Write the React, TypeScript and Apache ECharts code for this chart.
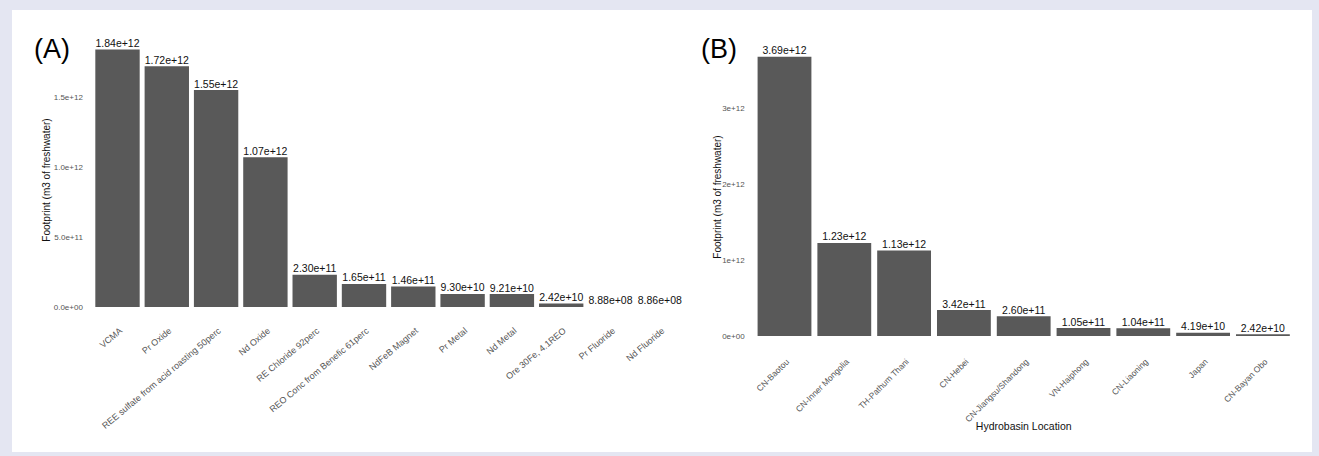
import React, { useEffect, useRef } from "react";
import * as echarts from "echarts";

const catsA = [
  "VCMA",
  "Pr Oxide",
  "REE sulfate from acid roasting 50perc",
  "Nd Oxide",
  "RE Chloride 92perc",
  "REO Conc from Benefic 61perc",
  "NdFeB Magnet",
  "Pr Metal",
  "Nd Metal",
  "Ore 30Fe, 4.1REO",
  "Pr Fluoride",
  "Nd Fluoride",
];
const valsA = [1.84e12, 1.72e12, 1.55e12, 1.07e12, 2.3e11, 1.65e11, 1.46e11, 9.3e10, 9.21e10, 2.42e10, 8.88e8, 8.86e8];

const catsB = [
  "CN-Baotou",
  "CN-Inner Mongolia",
  "TH-Pathum Thani",
  "CN-Hebei",
  "CN-Jiangsu/Shandong",
  "VN-Haiphong",
  "CN-Liaoning",
  "Japan",
  "CN-Bayan Obo",
];
const valsB = [3.69e12, 1.23e12, 1.13e12, 3.42e11, 2.6e11, 1.05e11, 1.04e11, 4.19e10, 2.42e10];

const ticksA = [0, 5e11, 1e12, 1.5e12];
const ticksB = [0, 1e12, 2e12, 3e12];

const yTitle = "Footprint (m3 of freshwater)";
const xTitleB = "Hydrobasin Location";

const FONT = "'Liberation Sans', Arial, Helvetica, sans-serif";

function fmtExp(v: number, digits: number): string {
  if (v === 0) return (0).toFixed(digits) + "e+00";
  let e = Math.floor(Math.log10(Math.abs(v)));
  let m = v / Math.pow(10, e);
  let ms = m.toFixed(digits);
  if (Math.abs(parseFloat(ms)) >= 10) {
    e += 1;
    m = v / Math.pow(10, e);
    ms = m.toFixed(digits);
  }
  const sign = e < 0 ? "-" : "+";
  const ae = Math.abs(e);
  return ms + "e" + sign + (ae < 10 ? "0" + ae : String(ae));
}

function tickFormatter(ticks: number[], digits: number) {
  return (v: number) => {
    const hit = ticks.some((t) => Math.abs(t - v) < 1e3);
    return hit ? fmtExp(v, digits) : "";
  };
}

export default function App() {
  const ref = useRef<HTMLDivElement>(null);

  useEffect(() => {
    if (!ref.current) return;
    const chart = echarts.init(ref.current, undefined, { renderer: "svg" });
    const bandA = 49.3;
    const bandB = 59.8;
    const leftA = 92.85;
    const leftB = 754.6;
    const topA = 27;
    const hA = 280;
    const hB = 75.7 * 4;
    const topB = 336 - hB;
    const shiftA = 0.5;
    const shiftB = 0;
    const yLabelStyle = {
      fontFamily: FONT,
      fontSize: 8,
      color: "#555",
    };
    const xLabelBase = {
      fontFamily: FONT,
      color: "#555",
      interval: 0,
      verticalAlign: "top" as const,
      align: "right" as const,
    };
    const hiddenAxis = {
      axisLine: { show: false },
      axisTick: { show: false },
      splitLine: { show: false },
    };
    const barLabel = {
      show: true,
      position: "top" as const,
      distance: 1,
      fontFamily: FONT,
      fontSize: 10.5,
      color: "#111",
      formatter: (p: any) => fmtExp(p.value, 2),
    };
    chart.setOption({
      animation: false,
      backgroundColor: "transparent",
      grid: [
        { left: leftA, top: topA, width: bandA * catsA.length, height: hA },
        { left: leftB, top: topB, width: bandB * catsB.length, height: hB },
        { left: leftA + shiftA, top: topA, width: bandA * catsA.length, height: hA },
        { left: leftB + shiftB, top: topB, width: bandB * catsB.length, height: hB },
      ],
      xAxis: [
        { type: "category", ...hiddenAxis, gridIndex: 0, data: catsA, axisLabel: { show: false } },
        { type: "category", ...hiddenAxis, gridIndex: 1, data: catsB, axisLabel: { show: false } },
        {
          type: "category",
          ...hiddenAxis,
          gridIndex: 2,
          data: catsA,
          axisLabel: { ...xLabelBase, fontSize: 9, rotate: 40, margin: 19 },
        },
        {
          type: "category",
          ...hiddenAxis,
          gridIndex: 3,
          data: catsB,
          axisLabel: { ...xLabelBase, fontSize: 8.5, rotate: 45, margin: 21 },
        },
      ],
      yAxis: [
        {
          type: "value",
          ...hiddenAxis,
          gridIndex: 0,
          min: 0,
          max: 2e12,
          interval: 5e11,
          axisLabel: { ...yLabelStyle, margin: 10, formatter: tickFormatter(ticksA, 1) },
        },
        {
          type: "value",
          ...hiddenAxis,
          gridIndex: 1,
          min: 0,
          max: 4e12,
          interval: 1e12,
          axisLabel: { ...yLabelStyle, margin: 10, formatter: tickFormatter(ticksB, 0) },
        },
        { type: "value", ...hiddenAxis, gridIndex: 2, min: 0, max: 1, axisLabel: { show: false } },
        { type: "value", ...hiddenAxis, gridIndex: 3, min: 0, max: 1, axisLabel: { show: false } },
      ],
      series: [
        {
          type: "bar",
          xAxisIndex: 0,
          yAxisIndex: 0,
          data: valsA,
          barWidth: "90%",
          itemStyle: { color: "#595959" },
          label: barLabel,
        },
        {
          type: "bar",
          xAxisIndex: 1,
          yAxisIndex: 1,
          data: valsB,
          barWidth: "90%",
          itemStyle: { color: "#595959" },
          label: barLabel,
        },
      ],
      graphic: [
        {
          type: "text",
          left: 34,
          top: 35,
          style: { text: "(A)", fontFamily: FONT, fontSize: 27, fill: "#000" },
        },
        {
          type: "text",
          left: 701,
          top: 35,
          style: { text: "(B)", fontFamily: FONT, fontSize: 27, fill: "#000" },
        },
        {
          type: "text",
          x: 46,
          y: 180,
          rotation: Math.PI / 2,
          style: {
            text: yTitle,
            fontFamily: FONT,
            fontSize: 10,
            fill: "#111",
            align: "center",
            verticalAlign: "middle",
          },
        },
        {
          type: "text",
          x: 717,
          y: 197,
          rotation: Math.PI / 2,
          style: {
            text: yTitle,
            fontFamily: FONT,
            fontSize: 10,
            fill: "#111",
            align: "center",
            verticalAlign: "middle",
          },
        },
        {
          type: "text",
          x: leftB + (bandB * catsB.length) / 2,
          y: 426,
          style: {
            text: xTitleB,
            fontFamily: FONT,
            fontSize: 10.5,
            fill: "#111",
            align: "center",
            verticalAlign: "middle",
          },
        },
      ],
    });
    return () => chart.dispose();
  }, []);

  return (
    <div
      style={{
        position: "absolute",
        left: 0,
        top: 0,
        width: 1319,
        height: 456,
        background: "#e4e6f2",
      }}
    >
      <div
        style={{
          position: "absolute",
          left: 12,
          top: 10,
          width: 1300,
          height: 442,
          background: "#ffffff",
        }}
      />
      <div
        ref={ref}
        style={{ position: "absolute", left: 0, top: 0, width: 1319, height: 456 }}
      />
    </div>
  );
}
